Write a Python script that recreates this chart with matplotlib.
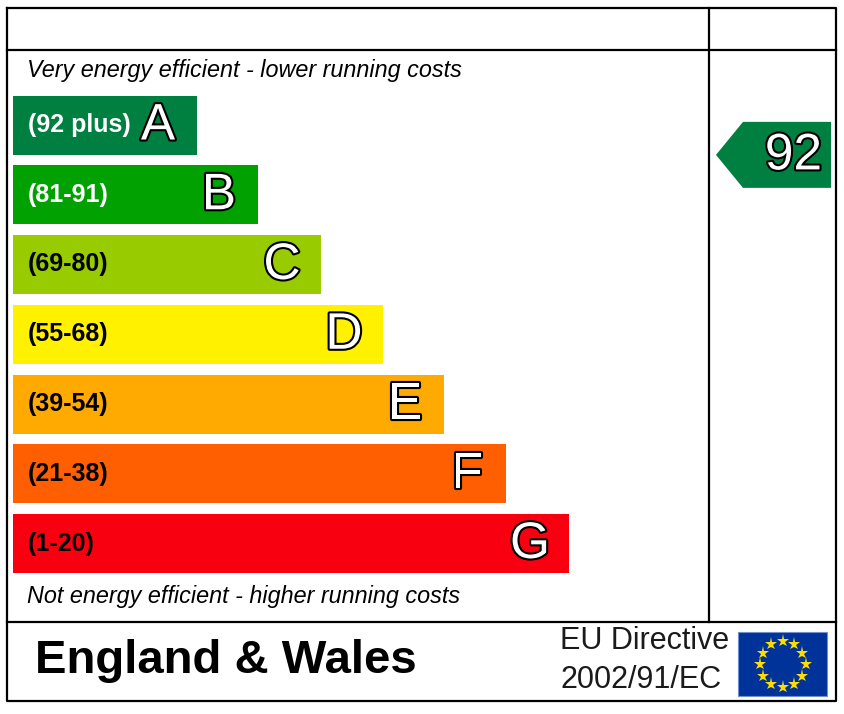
import numpy as np
import matplotlib.pyplot as plt
import matplotlib.patheffects as pe
from matplotlib.patches import Polygon, Rectangle
from matplotlib import font_manager

# EPC bands
letters = ['A', 'B', 'C', 'D', 'E', 'F', 'G']
ranges = ['(92 plus)', '(81-91)', '(69-80)', '(55-68)', '(39-54)', '(21-38)', '(1-20)']
band_colors = ['#008040', '#00a100', '#98cb00', '#fff100', '#ffaa00', '#ff5f00', '#f8000f']
label_colors = ['white', 'white', 'black', 'black', 'black', 'black', 'black']
band_lengths = [184, 245, 308, 370, 431, 493, 556]   # bar lengths in px

current_rating = 92
current_band = 'A'

top_text = 'Very energy efficient - lower running costs'
bottom_text = 'Not energy efficient - higher running costs'
region = 'England & Wales'
directive = ['EU Directive', '2002/91/EC']

# pick a narrow font for the range labels if there is one
try:
    font_manager.findfont('Liberation Sans Narrow', fallback_to_default=False)
    narrow = 'Liberation Sans Narrow'
except Exception:
    narrow = 'Liberation Sans'
plt.rcParams['font.family'] = ['Liberation Sans', 'DejaVu Sans']

fig = plt.figure(figsize=(8.44, 7.14), dpi=100)
ax = fig.add_axes([0, 0, 1, 1])
ax.set_xlim(0, 844)
ax.set_ylim(714, 0)
ax.axis('off')

# frame
lw = 1.6
ax.plot([7, 836, 836, 7, 7], [8, 8, 701, 701, 8], color='black', lw=lw)
ax.plot([7, 836], [50, 50], color='black', lw=lw)
ax.plot([7, 836], [622, 622], color='black', lw=lw)
ax.plot([709, 709], [8, 622], color='black', lw=lw)

# bars
y0, step = 125, 69.75
ys = y0 + step * np.arange(len(letters))
ax.barh(ys, band_lengths, left=13, height=59, color=band_colors, edgecolor='none')

outline = [pe.withStroke(linewidth=3, foreground='black')]
for y, w, let, rng, lc in zip(ys, band_lengths, letters, ranges, label_colors):
    ax.text(28, y, rng, fontsize=18, fontweight='bold', family=narrow,
            color=lc, ha='left', va='center')
    ax.text(13 + w - 39, y + 1, let, fontsize=37, color='white',
            ha='center', va='center', path_effects=outline)

ax.text(27, 70, top_text, fontsize=16.8, style='italic', ha='left', va='center')
ax.text(27, 597, bottom_text, fontsize=16.8, style='italic', ha='left', va='center')

# current rating arrow, sits between the A and B rows
i = letters.index(current_band)
yc = (ys[0] + ys[1]) / 2 - 5
arrow = Polygon([(716, yc), (743, yc - 33), (831, yc - 33), (831, yc + 33), (743, yc + 33)],
                closed=True, facecolor=band_colors[i], edgecolor='none')
ax.add_patch(arrow)
ax.text(822, yc + 1, str(current_rating), fontsize=37, color='white',
        ha='right', va='center', path_effects=outline)

# footer
ax.text(35, 661, region, fontsize=34, fontweight='bold', ha='left', va='center')
ax.text(560, 641, directive[0], fontsize=22, ha='left', va='center', color='#1a1a1a')
ax.text(560, 680, directive[1], fontsize=22, ha='left', va='center', color='#1a1a1a')

# EU flag
ax.add_patch(Rectangle((738, 632), 89, 64, facecolor='#003399', edgecolor='#6f8fd0', lw=0.8))
ang = np.arange(12) * np.pi / 6
ax.plot(782.5 + 23 * np.cos(ang), 664 + 23 * np.sin(ang), linestyle='none',
        marker='*', markersize=9.5, color='#ffdd00', markeredgewidth=0)

fig.savefig('out.png', dpi=100)
